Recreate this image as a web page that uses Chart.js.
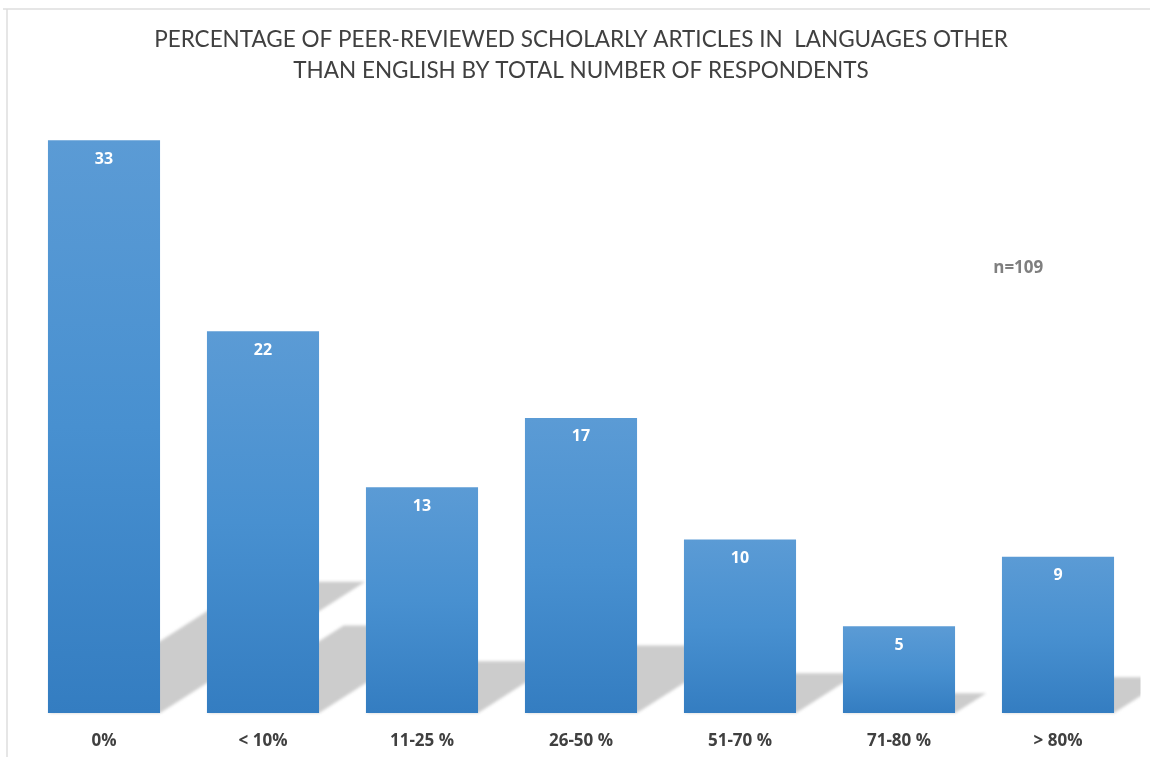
<!DOCTYPE html>
<html>
<head>
<meta charset="utf-8">
<script src="https://cdn.jsdelivr.net/npm/chart.js@4/dist/chart.umd.min.js"></script>
<style>
  html, body { margin: 0; padding: 0; background: #fff; }
  #wrap { position: relative; width: 1150px; height: 757px; }
</style>
</head>
<body>
<div id="wrap"><canvas id="chart"></canvas></div>
<script>
const categories = ["0%", "< 10%", "11-25 %", "26-50 %", "51-70 %", "71-80 %", "> 80%"];
const respondents = [33, 22, 13, 17, 10, 5, 9];
const titleLines = [
  "PERCENTAGE OF PEER-REVIEWED SCHOLARLY ARTICLES IN  LANGUAGES OTHER",
  "THAN ENGLISH BY TOTAL NUMBER OF RESPONDENTS"
];
const sampleNote = "n=109";

// frame lines of the original slide
const framePlugin = {
  id: "frame",
  beforeDraw(chart) {
    const ctx = chart.ctx;
    ctx.save();
    ctx.strokeStyle = "#dedede";
    ctx.lineWidth = 1.5;
    ctx.beginPath();
    ctx.moveTo(3, 9);
    ctx.lineTo(chart.width, 9);
    ctx.moveTo(7, 9);
    ctx.lineTo(7, chart.height);
    ctx.stroke();
    ctx.restore();
  }
};

// perspective shadow behind each bar
const shadowPlugin = {
  id: "barShadow",
  beforeDatasetsDraw(chart) {
    const ctx = chart.ctx;
    const area = chart.chartArea;
    const bars = chart.getDatasetMeta(0).data;
    ctx.save();
    ctx.beginPath();
    ctx.rect(area.left, 0, area.right - area.left + 3, chart.height);
    ctx.clip();
    ctx.filter = "blur(1.5px)";
    ctx.fillStyle = "#cccccc";
    bars.forEach((bar) => {
      const h = bar.base - bar.y;
      const dy = h * 0.229;
      const dx = h * 0.358;
      const l = bar.x - bar.width / 2;
      const r = bar.x + bar.width / 2;
      ctx.beginPath();
      ctx.moveTo(l, bar.base);
      ctx.lineTo(r, bar.base);
      ctx.lineTo(r + dx, bar.base - dy);
      ctx.lineTo(l + dx, bar.base - dy);
      ctx.closePath();
      ctx.fill();
    });
    ctx.restore();
  }
};

// value labels inside bars + n note
const labelPlugin = {
  id: "valueLabels",
  afterDatasetsDraw(chart) {
    const ctx = chart.ctx;
    const bars = chart.getDatasetMeta(0).data;
    ctx.save();
    ctx.fillStyle = "#ffffff";
    ctx.font = "bold 16px 'Open Sans', sans-serif";
    ctx.textAlign = "center";
    ctx.textBaseline = "middle";
    bars.forEach((bar, i) => {
      ctx.fillText(String(respondents[i]), bar.x, bar.y + 19);
    });
    const xs = chart.scales.x;
    const ys = chart.scales.y;
    ctx.fillStyle = "#7f7f7f";
    ctx.font = "bold 17px 'Open Sans', sans-serif";
    ctx.fillText(sampleNote, xs.getPixelForValue(5.75), ys.getPixelForValue(25.6));
    ctx.restore();
  }
};

function barGradient(context) {
  const chart = context.chart;
  if (!chart.chartArea || context.dataIndex === undefined) return "#4a8fcf";
  const y = chart.scales.y;
  const top = y.getPixelForValue(respondents[context.dataIndex]);
  const base = y.getPixelForValue(0);
  const g = chart.ctx.createLinearGradient(0, top, 0, base);
  g.addColorStop(0, "#5b9bd5");
  g.addColorStop(0.5, "#4890d0");
  g.addColorStop(1, "#347dc1");
  return g;
}

new Chart(document.getElementById("chart"), {
  type: "bar",
  data: {
    labels: categories,
    datasets: [{
      label: "Respondents",
      data: respondents,
      backgroundColor: barGradient,
      borderWidth: 0,
      barPercentage: 0.705,
      categoryPercentage: 1
    }]
  },
  options: {
    responsive: true,
    maintainAspectRatio: false,
    animation: false,
    layout: { padding: { left: 24.5, right: 12.5, top: 0, bottom: 0 } },
    plugins: {
      legend: { display: false },
      tooltip: { enabled: false },
      title: {
        display: true,
        text: titleLines,
        color: "#404040",
        font: { family: "Lato, sans-serif", size: 22.5, weight: "normal", lineHeight: 1.37 },
        padding: { top: 24.6, bottom: 36.6 }
      }
    },
    scales: {
      x: {
        grid: { display: false, drawTicks: false },
        border: { display: false },
        afterFit(scale) { scale.height = 44; },
        ticks: {
          color: "#404040",
          padding: 18,
          font: { family: "'Open Sans', sans-serif", size: 17, weight: "bold" }
        }
      },
      y: {
        display: false,
        min: 0,
        max: 34
      }
    }
  },
  plugins: [framePlugin, shadowPlugin, labelPlugin]
});
</script>
</body>
</html>
